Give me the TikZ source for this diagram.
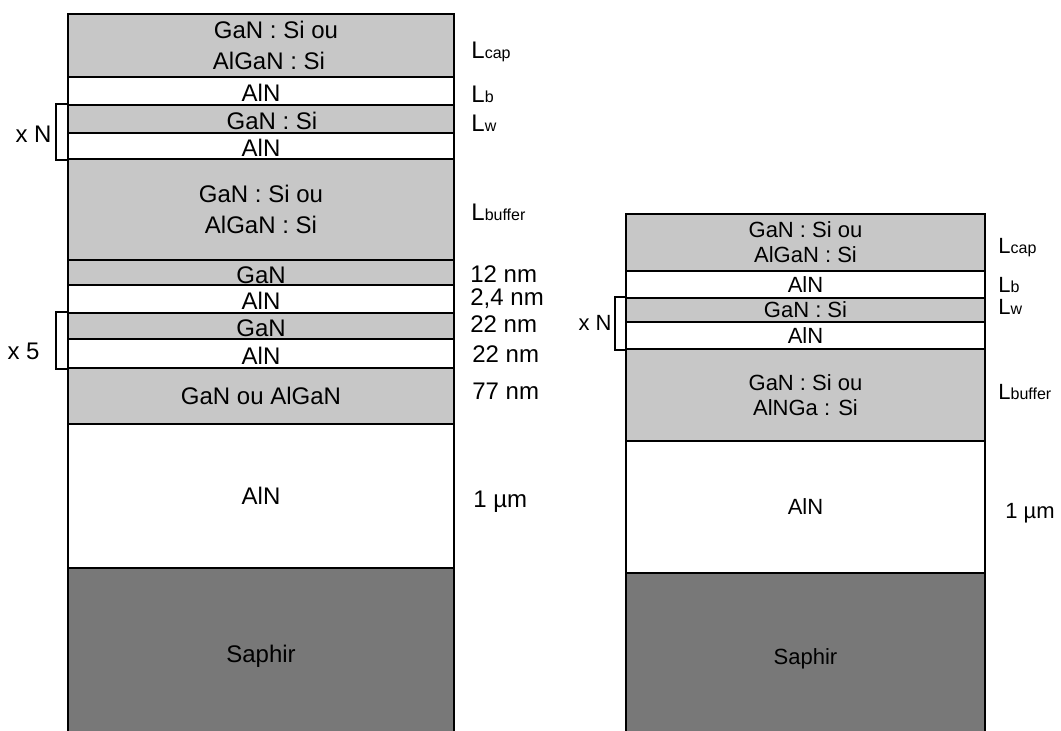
\documentclass[tikz,border=0pt]{standalone}
\usepackage{fontspec}
\newfontfamily\stackfont{Liberation Sans}
\definecolor{ganfill}{RGB}{199,199,199}
\definecolor{saphirfill}{RGB}{120,120,120}
\usetikzlibrary{positioning}
\newcommand{\sub}[1]{{\fontsize{8}{9}\selectfont #1}}
\tikzset{
  layer/.style={draw=black,line width=0.8pt,inner sep=0pt,align=center,
                font=\stackfont\fontsize{12}{15.5}\selectfont},
  ganlayer/.style={layer,fill=ganfill},
  alnlayer/.style={layer,fill=white},
  saphirlayer/.style={layer,fill=saphirfill},
  thinl/.style={text height=11pt,text depth=0pt},
  thinr/.style={text height=8pt,text depth=0pt},
  leftcol/.style={minimum width=193pt},
  rightcol/.style={minimum width=179.5pt,font=\stackfont\fontsize{11}{12.5}\selectfont},
  side/.style={anchor=base west,inner sep=0pt,font=\stackfont\fontsize{12}{13}\selectfont},
  sider/.style={side,font=\stackfont\fontsize{11}{12}\selectfont},
  brace/.style={draw=black,line width=0.8pt},
}

\begin{document}
\begin{tikzpicture}[x=0.5pt,y=-0.5pt]
  \useasboundingbox (0,0) rectangle (1061,731);
  % left stack
  \node[ganlayer,leftcol,minimum height=31.5pt] (capL) at (261,45.5)
    {\hspace*{15pt}GaN : Si ou\\\hspace*{8pt}AlGaN : Si};
  \node[alnlayer,leftcol,thinl,minimum height=14pt] (bL) at (261,91) {AlN};
  \node[ganlayer,leftcol,thinl,minimum height=14pt] (wL) at (261,119) {\hspace*{11pt}GaN : Si};
  \node[alnlayer,leftcol,thinl,minimum height=13pt] (aL) at (261,146) {AlN};
  \node[ganlayer,leftcol,minimum height=50.5pt] (bufL) at (261,209.5) {GaN : Si ou\\AlGaN : Si};
  \node[ganlayer,leftcol,thinl,minimum height=12.5pt] (g1L) at (261,272.5) {GaN};
  \node[alnlayer,leftcol,thinl,minimum height=14pt] (a1L) at (261,299) {AlN};
  \node[ganlayer,leftcol,thinl,minimum height=13pt] (g2L) at (261,326) {GaN};
  \node[alnlayer,leftcol,thinl,minimum height=14.5pt] (a2L) at (261,353.5) {AlN};
  \node[ganlayer,leftcol,minimum height=28pt] (gaL) at (261,396) {GaN ou AlGaN};
  \node[alnlayer,leftcol,minimum height=72pt] (alnL) at (261,496) {AlN};
  \node[saphirlayer,leftcol,minimum height=88.5pt] (sapL) at (261,656.5) {Saphir};

  \draw[brace] (wL.north west) -- ++(-11,0) |- (aL.south west);
  \draw[brace] (g2L.north west) -- ++(-11,0) |- (a2L.south west);
  \node[side,anchor=base east] (xnL) at (52,143) {x N};
  \node[side,anchor=base east] (x5L) at (40,360) {x 5};

  \node[side] (capTL) at (471,58.5) {L\sub{cap}};
  \node[side] (bTL) at (471,103) {L\sub{b}};
  \node[side] (wTL) at (471,131.5) {L\sub{w}};
  \node[side] (bufTL) at (471,220.5) {L\sub{buffer}};
  \node[side] (g1TL) at (470,282.5) {12 nm};
  \node[side] (a1TL) at (470,305.5) {2,4 nm};
  \node[side] (g2TL) at (470,333) {22 nm};
  \node[side] (a2TL) at (472,362.5) {22 nm};
  \node[side] (gaTL) at (472,399.5) {77 nm};
  \node[side] (alnTL) at (473,507.5) {1 µm};

  % right stack
  \node[ganlayer,rightcol,minimum height=28.5pt] (capR) at (805.5,242.5) {GaN : Si ou\\AlGaN : Si};
  \node[alnlayer,rightcol,thinr,minimum height=13.5pt] (bR) at (805.5,284.5) {AlN};
  \node[ganlayer,rightcol,thinr,minimum height=12pt] (wR) at (805.5,310) {GaN : Si};
  \node[alnlayer,rightcol,thinr,minimum height=13.5pt] (aR) at (805.5,335.5) {AlN};
  \node[ganlayer,rightcol,minimum height=46pt] (bufR) at (805.5,395) {GaN : Si ou\\AlNGa : Si};
  \node[alnlayer,rightcol,minimum height=66pt] (alnR) at (805.5,507) {AlN};
  \node[saphirlayer,rightcol,minimum height=86pt] (sapR) at (805.5,659) {Saphir};

  \draw[brace] (wR.north west) -- ++(-10,0) |- (aR.south west);
  \node[sider,anchor=base east] (xnR) at (612,331) {x N};

  \node[sider] (capTR) at (998,253.5) {L\sub{cap}};
  \node[sider] (bTR) at (998,292.5) {L\sub{b}};
  \node[sider] (wTR) at (998,315) {L\sub{w}};
  \node[sider] (bufTR) at (998,400) {L\sub{buffer}};
  \node[sider] (alnTR) at (1005,519) {1 µm};
\end{tikzpicture}
\end{document}
